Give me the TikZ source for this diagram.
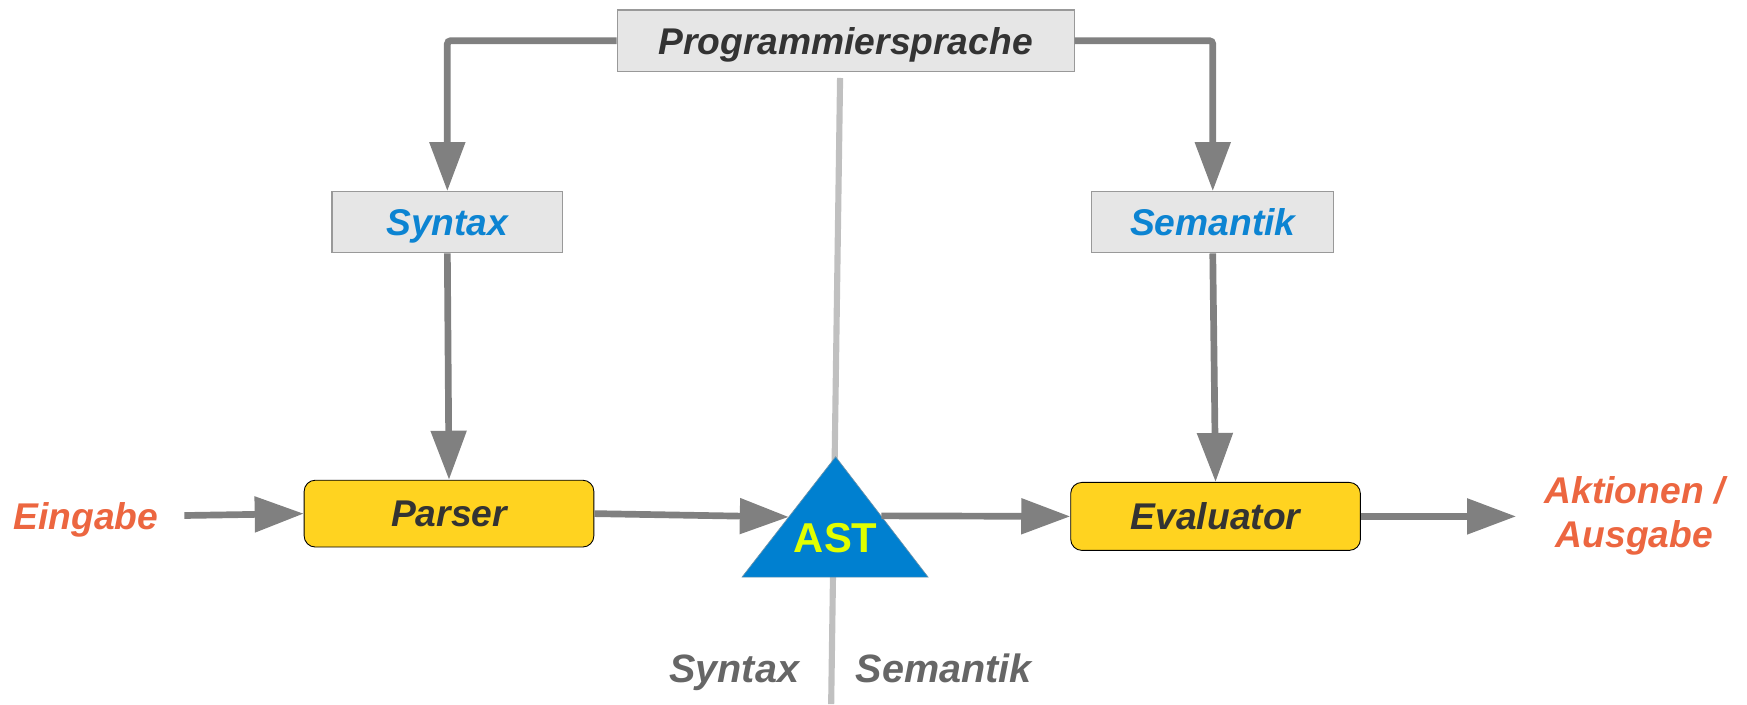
\documentclass[tikz,border=0pt]{standalone}
\usepackage{fontspec}
\setmainfont{Liberation Sans}
\usetikzlibrary{arrows.meta}
\definecolor{boxfill}{RGB}{230,230,230}
\definecolor{boxline}{RGB}{153,153,153}
\definecolor{darktext}{RGB}{51,51,51}
\definecolor{bluetext}{RGB}{12,132,210}
\definecolor{procfill}{RGB}{255,211,32}
\definecolor{arrowgray}{RGB}{128,128,128}
\definecolor{splitgray}{RGB}{192,192,192}
\definecolor{iotext}{RGB}{236,102,64}
\definecolor{asttext}{RGB}{225,255,0}
\definecolor{astfill}{RGB}{0,128,208}
\definecolor{sidetext}{RGB}{102,102,102}
\begin{document}
\begin{tikzpicture}[x=1pt,y=1pt,
  lbl/.style={font=\fontsize{33.4}{40}\selectfont\bfseries\itshape},
  oneline/.style={text height=24pt, text depth=0pt},
  conceptbox/.style={lbl, oneline, draw=boxline, line width=1pt, fill=boxfill, inner sep=0pt, minimum height=55pt},
  procbox/.style={lbl, oneline, text=darktext, draw=black, line width=0.8pt, fill=procfill, rounded corners=10pt, inner sep=0pt, minimum width=260pt, minimum height=60pt},
  iolabel/.style={lbl, text=iotext, align=center},
  sidelabel/.style={font=\fontsize{35.5}{42}\selectfont\bfseries\itshape, oneline, text=sidetext},
  arr/.style={draw=arrowgray, line width=6pt, -{Triangle[length=44pt,width=31pt]}, arrowgray}
]
\useasboundingbox (0,0) rectangle (1568,632);

% dividing line between syntax and semantics
\draw[splitgray, line width=5.5pt] (754,562) -- (746,0);

% concept boxes
\node[conceptbox, text=darktext, minimum width=410pt] (prog) at (759,595.5) {Programmiersprache};
\node[conceptbox, text=bluetext, minimum width=207pt] (syn) at (401.5,432.5) {Syntax};
\node[conceptbox, text=bluetext, minimum width=217pt] (sem) at (1088.5,432.5) {Semantik};

% processing stages
\node[procbox] (parser) at (403,171) {Parser};
\node[procbox, minimum height=61pt] (eval) at (1091,168.5) {Evaluator};

% abstract syntax tree
\coordinate (astTop) at (750,222);
\coordinate (astBL) at (666,114);
\coordinate (astBR) at (833,114);
\fill[astfill] (astTop) -- (astBR) -- (astBL) -- cycle;
\draw[boxline!70!astfill, line width=0.6pt] (astTop) -- (astBR) -- (astBL) -- cycle;
\node[font=\fontsize{37.5}{44}\selectfont\bfseries, text=asttext] (ast) at (750,149) {AST};
\coordinate (astL) at (708,168);
\coordinate (astR) at (791,169);

% input and output
\node[iolabel, oneline] (ein) at (77,169) {Eingabe};
\node[iolabel] (out) at (1467,169) {Aktionen /\\Ausgabe};

% side labels
\node[sidelabel] (sx) at (659,31) {Syntax};
\node[sidelabel] (sm) at (847,31) {Semantik};

% connectors
\draw[arr, rounded corners=3pt] (prog.west) -| (syn.north);
\draw[arr, rounded corners=3pt] (prog.east) -| (sem.north);
\draw[arr] (syn.south) -- (parser.north);
\draw[arr] (sem.south) -- (eval.north);
\draw[arr, shorten <=20pt] (ein.east) -- (parser.west);
\draw[arr] (parser.east) -- (astL);
\draw[arr] (astR) -- (eval.west);
\draw[arr, shorten >=22pt] (eval.east) -- (eval.east -| out.west);
\end{tikzpicture}
\end{document}
